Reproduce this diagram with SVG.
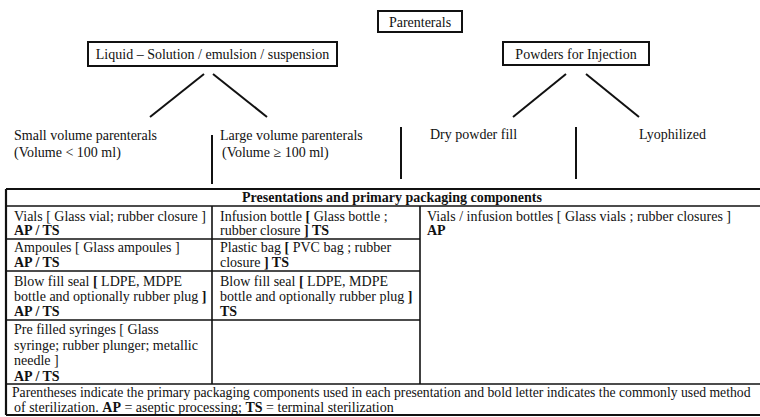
<svg xmlns="http://www.w3.org/2000/svg" width="760" height="417" viewBox="0 0 760 417">
<style>
text{font-family:"Liberation Serif","Times New Roman",serif;font-size:14px;fill:#111}
.b{font-weight:bold}
.fn{font-size:13.7px}
.box{fill:#fff;stroke:#111;stroke-width:2}
.ln{stroke:#111;stroke-width:2;fill:none}
.tb{stroke:#111;stroke-width:1.6;fill:none}
.tbo{stroke:#111;stroke-width:2.2;fill:none}
</style>
<rect width="760" height="417" fill="#fff"/>

<g id="parenterals">
<rect class="box" x="378" y="11" width="84" height="21"/>
<text x="420" y="26.5" text-anchor="middle">Parenterals</text>
</g>
<g id="liquid">
<rect class="box" x="88" y="42" width="249" height="24"/>
<text x="212.5" y="59" text-anchor="middle">Liquid – Solution / emulsion / suspension</text>
</g>
<g id="powders">
<rect class="box" x="503" y="42" width="146" height="23"/>
<text x="576" y="58.5" text-anchor="middle">Powders for Injection</text>
</g>
<g id="small-volume">
<text x="14" y="140">Small volume parenterals</text>
<text x="14" y="157">(Volume &lt; 100 ml)</text>
</g>
<g id="large-volume">
<text x="220" y="140">Large volume parenterals</text>
<text x="222" y="157">(Volume ≥ 100 ml)</text>
</g>
<g id="dry-powder">
<text x="430" y="139">Dry powder fill</text>
</g>
<g id="lyophilized">
<text x="639" y="139">Lyophilized</text>
</g>

<g id="connectors">
<line class="ln" x1="204" y1="74" x2="150" y2="117"/>
<line class="ln" x1="213" y1="74" x2="267" y2="117"/>
<line class="ln" x1="566" y1="74" x2="513" y2="117"/>
<line class="ln" x1="586" y1="74" x2="639" y2="117"/>
<line class="ln" x1="212" y1="135" x2="212" y2="184"/>
<line class="ln" x1="401" y1="127" x2="401" y2="179"/>
<line class="ln" x1="576" y1="127" x2="576" y2="179"/>
</g>

<g id="table">
<line class="tbo" x1="6" y1="189" x2="770" y2="189"/>
<line class="tbo" x1="6" y1="189" x2="6" y2="415"/>
<line class="tbo" x1="6" y1="415" x2="770" y2="415"/>
<line class="tb" x1="6" y1="206" x2="770" y2="206"/>
<line class="tb" x1="6" y1="239" x2="420" y2="239"/>
<line class="tb" x1="6" y1="271" x2="420" y2="271"/>
<line class="tb" x1="6" y1="320" x2="420" y2="320"/>
<line class="tb" x1="6" y1="384" x2="770" y2="384"/>
<line class="tb" x1="212" y1="206" x2="212" y2="384"/>
<line class="tb" x1="420" y1="206" x2="420" y2="384"/>
<text class="b" x="392" y="202" text-anchor="middle">Presentations and primary packaging components</text>
</g>

<g id="cell-vials">
<text x="14" y="221">Vials [ Glass vial; rubber closure ]</text>
<text class="b" x="14" y="235">AP / TS</text>
</g>
<g id="cell-infusion">
<text x="220" y="221">Infusion bottle <tspan class="b">[</tspan> Glass bottle ;</text>
<text x="220" y="235">rubber closure <tspan class="b">] TS</tspan></text>
</g>
<g id="cell-vials-infusion">
<text x="427" y="221">Vials / infusion bottles [ Glass vials ; rubber closures ]</text>
<text class="b" x="427" y="235">AP</text>
</g>
<g id="cell-ampoules">
<text x="14" y="252">Ampoules [ Glass ampoules ]</text>
<text class="b" x="14" y="267">AP / TS</text>
</g>
<g id="cell-plastic-bag">
<text x="220" y="252">Plastic bag <tspan class="b">[</tspan> PVC bag ; rubber</text>
<text x="220" y="267">closure <tspan class="b">] TS</tspan></text>
</g>
<g id="cell-bfs-1">
<text x="14" y="286">Blow fill seal <tspan class="b">[</tspan> LDPE, MDPE</text>
<text x="14" y="301">bottle and optionally rubber plug <tspan class="b">]</tspan></text>
<text class="b" x="14" y="316">AP / TS</text>
</g>
<g id="cell-bfs-2">
<text x="220" y="286">Blow fill seal <tspan class="b">[</tspan> LDPE, MDPE</text>
<text x="220" y="301">bottle and optionally rubber plug <tspan class="b">]</tspan></text>
<text class="b" x="220" y="316">TS</text>
</g>
<g id="cell-syringes">
<text x="14" y="334">Pre filled syringes [ Glass</text>
<text x="14" y="349.5">syringe; rubber plunger; metallic</text>
<text x="14" y="365">needle ]</text>
<text class="b" x="14" y="380.5">AP / TS</text>
</g>
<g id="footnote">
<text class="fn" x="12" y="397">Parentheses indicate the primary packaging components used in each presentation and bold letter indicates the commonly used method</text>
<text x="14" y="412">of sterilization.  <tspan class="b">AP</tspan> = aseptic processing; <tspan class="b">TS</tspan> = terminal sterilization</text>
</g>
</svg>
